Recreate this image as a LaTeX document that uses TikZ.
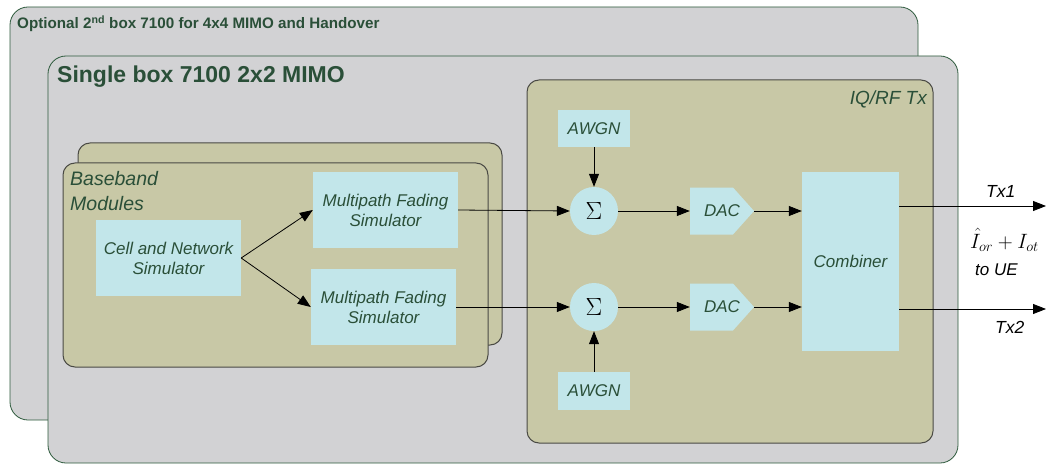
\documentclass[tikz,border=0pt]{standalone}
\usepackage{fontspec}
\setmainfont{Liberation Sans}
\usetikzlibrary{arrows.meta}
\definecolor{boxgrey}{HTML}{D2D2D4}
\definecolor{boxgreen}{HTML}{2D5A3C}
\definecolor{khaki}{HTML}{C8C8A6}
\definecolor{khakiedge}{HTML}{4A4A44}
\definecolor{lblue}{HTML}{C2E6EA}
\definecolor{txtgreen}{HTML}{2A4F38}
\begin{document}
\begin{tikzpicture}[x=1pt,y=-1pt,
  outerbox/.style={draw=boxgreen,fill=boxgrey,line width=0.8pt,rounded corners=18pt},
  modbox/.style={draw=khakiedge,fill=khaki,line width=1pt,rounded corners=12pt},
  blk/.style={fill=lblue,inner sep=0pt,align=center,text=txtgreen,
    font=\itshape\fontsize{17}{20}\selectfont},
  sumnode/.style={circle,fill=lblue,minimum size=48pt,inner sep=0pt,
    font=\fontsize{23}{23}\selectfont},
  dacnode/.style={inner sep=0pt,minimum width=64pt,minimum height=47pt,text=txtgreen,
    font=\itshape\fontsize{17}{18}\selectfont,
    path picture={\fill[lblue] (path picture bounding box.north west)
      -- ([xshift=-21pt]path picture bounding box.north east)
      -- (path picture bounding box.east)
      -- ([xshift=-21pt]path picture bounding box.south east)
      -- (path picture bounding box.south west) -- cycle;}},
  arr/.style={line width=0.8pt,-{Triangle[length=13pt,width=10pt]}},
  lbl/.style={text=txtgreen,inner sep=0pt,anchor=base west}]
\useasboundingbox (0,0) rectangle (1051,465);
% enclosing boxes
\draw[outerbox] (10,7) rectangle (918,420);
\node[lbl,font=\bfseries\fontsize{15.2}{16}\selectfont] (optlabel) at (17,29)
  {Optional 2\textsuperscript{nd} box 7100 for 4x4 MIMO and Handover};
\draw[outerbox] (48,56) rectangle (958,463);
\node[lbl,font=\bfseries\fontsize{23}{24}\selectfont] (singlelabel) at (57,83)
  {Single box 7100 2x2 MIMO};
% IQ/RF Tx module
\draw[modbox] (527,80) rectangle (933,443);
\node[text=txtgreen,inner sep=0pt,anchor=base east,font=\itshape\fontsize{19}{20}\selectfont]
  (iqlabel) at (927,105) {IQ/RF Tx};
% baseband modules
\draw[modbox] (78,143) rectangle (502,345);
\draw[modbox] (63,163) rectangle (488,367);
\node[text=txtgreen,inner sep=0pt,anchor=north west,font=\itshape\fontsize{19.5}{25}\selectfont,align=left]
  (bblabel) at (70,171) {Baseband\\Modules};
% blocks
\node[blk,minimum width=145pt,minimum height=76pt] (cell) at (168.5,258)
  {Cell and Network\\Simulator};
\node[blk,minimum width=145pt,minimum height=76pt] (mfs1) at (385.5,210)
  {Multipath Fading\\Simulator};
\node[blk,minimum width=145pt,minimum height=76pt] (mfs2) at (383.5,307)
  {Multipath Fading\\Simulator};
\node[blk,minimum width=72pt,minimum height=37pt] (awgn1) at (594,128.5) {AWGN};
\node[blk,minimum width=72pt,minimum height=38pt] (awgn2) at (594,391) {AWGN};
\node[sumnode] (sig1) at (594,211) {$\Sigma$};
\node[sumnode] (sig2) at (594,307) {$\Sigma$};
\node[dacnode] (dac1) at (722,211) {DAC};
\node[dacnode] (dac2) at (722,307) {DAC};
\node[blk,minimum width=97pt,minimum height=179pt] (comb) at (850.5,261.5) {Combiner};
% connectors
\draw[arr] (cell.east) -- (mfs1.west);
\draw[arr] (cell.east) -- (mfs2.west);
\draw[arr] (mfs1.east) -- (sig1.west);
\draw[arr] (mfs2.east) -- (sig2.west);
\draw[arr] (awgn1.south) -- (sig1.north);
\draw[arr] (awgn2.north) -- (sig2.south);
\draw[arr] (sig1.east) -- (dac1.west);
\draw[arr] (sig2.east) -- (dac2.west);
\draw[arr] (dac1.east) -- (dac1.east -| comb.west);
\draw[arr] (dac2.east) -- (dac2.east -| comb.west);
\coordinate (tx1end) at (1046,206);
\coordinate (tx2end) at (1046,309);
\draw[arr] (comb.east |- tx1end) -- (tx1end);
\draw[arr] (comb.east |- tx2end) -- (tx2end);
% output labels
\node[lbl,text=black,font=\itshape\fontsize{17.5}{18}\selectfont] (tx1) at (986,197) {Tx1};
\node[lbl,text=black,font=\itshape\fontsize{17.5}{18}\selectfont] (tx2) at (995,333) {Tx2};
\node[lbl,text=black,font=\fontsize{22}{22}\selectfont] (ior) at (970,248)
  {$\hat{I}_{or}+I_{ot}$};
\node[lbl,text=black,font=\itshape\fontsize{17}{18}\selectfont] (toue) at (975,275) {to UE};
\end{tikzpicture}
\end{document}
